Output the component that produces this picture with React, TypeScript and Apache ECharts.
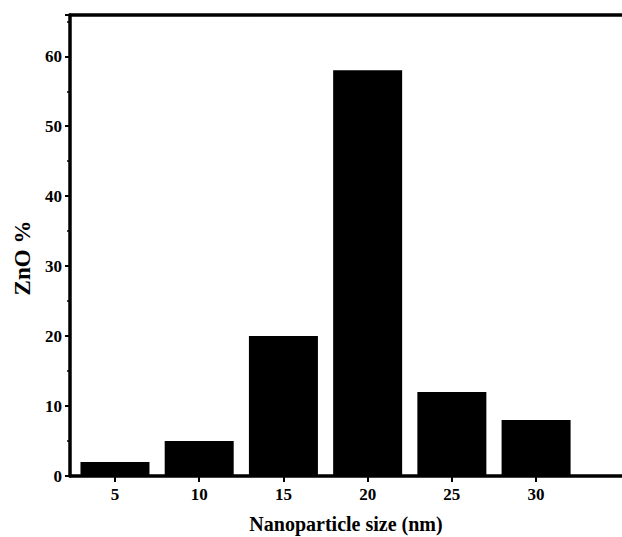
import React, { useEffect, useRef } from "react";
import * as echarts from "echarts";

const sizes = [5, 10, 15, 20, 25, 30];
const percents = [2, 5, 20, 58, 12, 8];
const xTicks = [5, 10, 15, 20, 25, 30];

const FONT = "'Liberation Serif', 'Times New Roman', serif";

export default function App() {
  const ref = useRef<HTMLDivElement>(null);
  useEffect(() => {
    if (!ref.current) return;
    const chart = echarts.init(ref.current, null, { renderer: "svg" });
    chart.setOption({
      animation: false,
      backgroundColor: "#ffffff",
      grid: { left: 70, right: 0, top: 15, bottom: 61, containLabel: false, outerBoundsMode: "none" },
      xAxis: [
        {
          type: "value",
          min: 2.33,
          max: 35.1,
          position: "bottom",
          axisLine: { show: true, lineStyle: { color: "#000", width: 3.5 } },
          axisTick: { show: true, customValues: xTicks, length: 6, lineStyle: { color: "#000", width: 2 } },
          axisLabel: { customValues: xTicks, color: "#000", fontFamily: FONT, fontWeight: "bold", fontSize: 17, margin: 10 },
          splitLine: { show: false },
          name: "Nanoparticle size (nm)",
          nameLocation: "middle",
          nameGap: 38,
          nameTextStyle: { color: "#000", fontFamily: FONT, fontWeight: "bold", fontSize: 20 },
        },
        {
          type: "value",
          min: 2.33,
          max: 35.1,
          position: "top",
          axisLine: { show: true, lineStyle: { color: "#000", width: 3.5 } },
          axisTick: { show: false },
          axisLabel: { show: false },
          splitLine: { show: false },
        },
      ],
      yAxis: {
        type: "value",
        min: 0,
        max: 65.9,
        interval: 10,
        axisLine: { show: true, lineStyle: { color: "#000", width: 3.5 } },
        axisTick: { show: true, length: 5, lineStyle: { color: "#000", width: 2 } },
        minorTick: { show: true, splitNumber: 2, length: 3, lineStyle: { color: "#000", width: 1.5 } },
        axisLabel: { color: "#000", fontFamily: FONT, fontWeight: "bold", fontSize: 17, margin: 8, showMaxLabel: false },
        splitLine: { show: false },
        name: "ZnO %",
        nameLocation: "middle",
        nameGap: 34,
        nameTextStyle: { color: "#000", fontFamily: FONT, fontWeight: "bold", fontSize: 23, padding: [0, 25, 0, 0] },
      },
      series: [
        {
          type: "bar",
          xAxisIndex: 0,
          data: sizes.map((s, i) => [s, percents[i]]),
          barWidth: 69,
          itemStyle: { color: "#000" },
        },
      ],
    });
    return () => chart.dispose();
  }, []);
  return (
    <div
      ref={ref}
      style={{ position: "fixed", left: 0, top: 0, width: 622, height: 537 }}
    />
  );
}
